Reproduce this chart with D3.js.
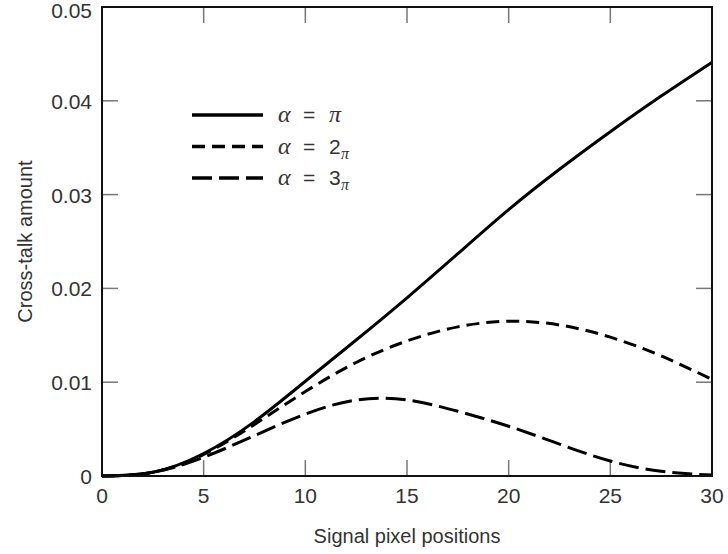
<!DOCTYPE html>
<html>
<head>
<meta charset="utf-8">
<script src="https://cdn.jsdelivr.net/npm/d3@7"></script>
<style>
  body { margin: 0; background: #fff; }
  text { font-family: "Liberation Sans", Arial, sans-serif; fill: #333; }
</style>
</head>
<body>
<div id="chart"></div>
<script>
// data
const xPositions = [0, 2.5, 5, 7.5, 10, 12.5, 15, 17.5, 20, 22.5, 25, 27.5, 30]
const alphaPi  = [0, 0.0004, 0.0024, 0.0058, 0.0101, 0.0145, 0.0190, 0.0237, 0.0284, 0.0327, 0.0367, 0.0405, 0.0441]
const alpha2Pi = [0, 0.0004, 0.0023, 0.0055, 0.0090, 0.0121, 0.0144, 0.0159, 0.0165, 0.0161, 0.0148, 0.0128, 0.0103]
const alpha3Pi = [0, 0.0004, 0.0020, 0.0043, 0.0066, 0.0081, 0.0081, 0.0069, 0.0053, 0.0034, 0.0016, 0.0005, 0.0001]
const xTicks = [0, 5, 10, 15, 20, 25, 30]
const yTicks = [0, 0.01, 0.02, 0.03, 0.04, 0.05]
const yTickLabels = ["0", "0.01", "0.02", "0.03", "0.04", "0.05"]
const seriesNames = [["α", "π", ""], ["α", "2", "π"], ["α", "3", "π"]]

const margin = {top: 7, right: 16, bottom: 78, left: 102},
    width = 728 - margin.left - margin.right,
    height = 554 - margin.top - margin.bottom;

const svg = d3.select("#chart")
  .append("svg")
    .attr("width", 728)
    .attr("height", 554)
  .append("g")
    .attr("transform", `translate(${margin.left},${margin.top})`);

const x = d3.scaleLinear().domain([0, 30]).range([0, width])
const y = d3.scaleLinear().domain([0, 0.05]).range([height, 0])

// ticks pointing inwards on all four sides
const tickLen = 16
const tickG = svg.append("g").attr("stroke", "#777").attr("stroke-width", 1.5)
tickG.selectAll(".tb").data(xTicks.slice(1, -1)).join("line")
  .attr("x1", d => x(d)).attr("x2", d => x(d))
  .attr("y1", height).attr("y2", height - tickLen)
tickG.selectAll(".tt").data(xTicks.slice(1, -1)).join("line")
  .attr("x1", d => x(d)).attr("x2", d => x(d))
  .attr("y1", 0).attr("y2", tickLen)
tickG.selectAll(".tl").data(yTicks.slice(1, -1)).join("line")
  .attr("x1", 0).attr("x2", tickLen)
  .attr("y1", d => y(d)).attr("y2", d => y(d))
tickG.selectAll(".tr").data(yTicks.slice(1, -1)).join("line")
  .attr("x1", width).attr("x2", width - tickLen)
  .attr("y1", d => y(d)).attr("y2", d => y(d))

// tick labels
svg.append("g").selectAll("text").data(xTicks).join("text")
  .attr("x", d => x(d))
  .attr("y", height + 27)
  .attr("text-anchor", "middle")
  .style("font-size", "21px")
  .text(d => d)

svg.append("g").selectAll("text").data(yTicks).join("text")
  .attr("x", -10)
  .attr("y", d => Math.max(y(d) + 8, 11))
  .attr("text-anchor", "end")
  .style("font-size", "21px")
  .text((d, i) => yTickLabels[i])

// curves
const line = d3.line()
  .x((d, i) => x(xPositions[i]))
  .y(d => y(d))
  .curve(d3.curveNatural)

const dashes = [null, "13,7", "20,7"]
const allSeries = [alphaPi, alpha2Pi, alpha3Pi]

svg.append("g").selectAll("path").data(allSeries).join("path")
  .attr("d", d => line(d))
  .attr("fill", "none")
  .attr("stroke", "#000")
  .attr("stroke-width", 3)
  .attr("stroke-dasharray", (d, i) => dashes[i])

// frame
svg.append("rect")
  .attr("width", width).attr("height", height)
  .attr("fill", "none")
  .attr("stroke", "#111")
  .attr("stroke-width", 2)

// axis titles
svg.append("text")
  .attr("x", width / 2)
  .attr("y", height + 67)
  .attr("text-anchor", "middle")
  .style("font-size", "20px")
  .text("Signal pixel positions")

svg.append("text")
  .attr("transform", `translate(-70, ${height / 2}) rotate(-90)`)
  .attr("text-anchor", "middle")
  .style("font-size", "20px")
  .text("Cross-talk amount")

// legend
const legend = svg.append("g").attr("transform", "translate(90, 108)")
const rowGap = 31.5
legend.selectAll("line").data(seriesNames).join("line")
  .attr("x1", 0).attr("x2", 71)
  .attr("y1", (d, i) => i * rowGap).attr("y2", (d, i) => i * rowGap)
  .attr("stroke", "#000")
  .attr("stroke-width", 3.5)
  .attr("stroke-dasharray", (d, i) => dashes[i])

const rows = legend.selectAll("g.row").data(seriesNames).join("g")
  .attr("class", "row")
  .attr("transform", (d, i) => `translate(0, ${i * rowGap + 7})`)
rows.append("text")
  .attr("x", 86)
  .style("font-family", "'Liberation Serif', serif")
  .style("font-style", "italic")
  .style("font-size", "24px")
  .text(d => d[0])
rows.append("text")
  .attr("x", 111)
  .style("font-size", "21px")
  .text("=")
rows.append("text")
  .attr("x", 137)
  .style("font-family", (d, i) => i === 0 ? "'Liberation Serif', serif" : null)
  .style("font-style", (d, i) => i === 0 ? "italic" : null)
  .style("font-size", (d, i) => i === 0 ? "24px" : "21px")
  .text(d => d[1])
rows.append("text")
  .attr("x", 149)
  .attr("y", 5)
  .style("font-family", "'Liberation Serif', serif")
  .style("font-style", "italic")
  .style("font-size", "16px")
  .text(d => d[2])
</script>
</body>
</html>
